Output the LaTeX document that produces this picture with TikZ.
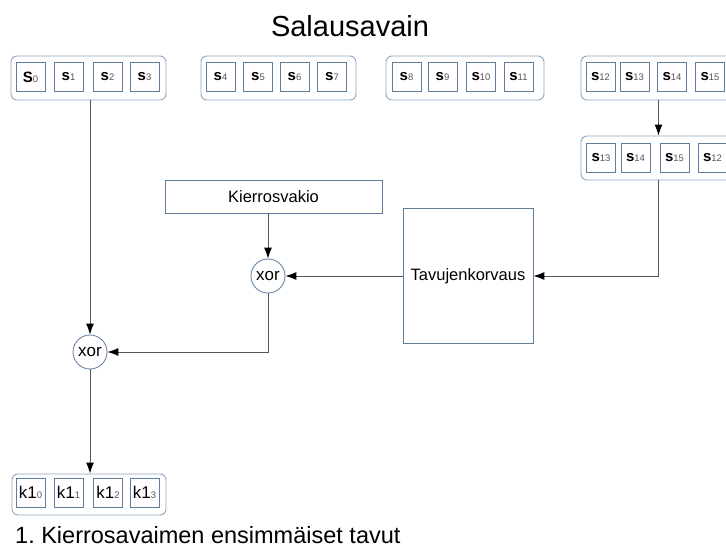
\documentclass[tikz,border=0pt]{standalone}
\usepackage{fontspec}
\setmainfont{Liberation Sans}
\usetikzlibrary{arrows.meta}
\definecolor{grpc}{HTML}{8FA7C0}
\definecolor{cellc}{HTML}{5F7D9C}
\definecolor{connc}{HTML}{555555}
\definecolor{subc}{HTML}{555555}
\newcommand\sbyte[2]{{\fontsize{15}{15}\selectfont\bfseries #1}{\fontsize{9.5}{9.5}\selectfont\color{subc}#2}}
\newcommand\kbyte[1]{{\fontsize{17}{17}\selectfont k1}{\fontsize{9.5}{9.5}\selectfont\color{subc}#1}}
\tikzset{
  grp/.style={draw=grpc, line width=0.9pt, rounded corners=6pt, minimum width=155pt, minimum height=44pt, inner sep=0pt},
  cell/.style={draw=cellc, line width=0.8pt, minimum width=29pt, minimum height=29pt, inner sep=0pt},
  opbox/.style={draw=cellc, line width=0.8pt, inner sep=0pt, font=\fontsize{16.5}{16.5}\selectfont},
  xorc/.style={draw=cellc, line width=0.8pt, circle, minimum size=34pt, inner sep=0pt, font=\fontsize{17}{17}\selectfont},
  conn/.style={draw=connc, line width=1pt, -{Latex[length=11pt,width=8pt,color=black]}},
}
\begin{document}
\begin{tikzpicture}[x=1pt,y=-1pt]
\useasboundingbox (0,0) rectangle (726,551);
\fill[white] (0,0) rectangle (726,551);

% heading
\node[anchor=base, font=\fontsize{29}{29}\selectfont] (title) at (350,37) {Salausavain};

% key words w0..w3
\node[grp] (g1) at (88.5,78) {};
\node[cell] (s0) at (30.5,77) {\sbyte{S}{0}};
\node[cell] (s1) at (68.5,77) {\sbyte{s}{1}};
\node[cell] (s2) at (107.5,77) {\sbyte{s}{2}};
\node[cell] (s3) at (144.5,77) {\sbyte{s}{3}};

\node[grp] (g2) at (278.5,78) {};
\node[cell] (s4) at (220.5,77) {\sbyte{s}{4}};
\node[cell] (s5) at (258,77) {\sbyte{s}{5}};
\node[cell] (s6) at (294.5,77) {\sbyte{s}{6}};
\node[cell] (s7) at (332,77) {\sbyte{s}{7}};

\node[grp, minimum width=158pt] (g3) at (465,78) {};
\node[cell] (s8) at (406.5,77) {\sbyte{s}{8}};
\node[cell] (s9) at (442.5,77) {\sbyte{s}{9}};
\node[cell] (s10) at (481,77) {\sbyte{s}{10}};
\node[cell] (s11) at (518.5,77) {\sbyte{s}{11}};

\node[grp] (g4) at (658.5,78) {};
\node[cell] (s12) at (600.5,77) {\sbyte{s}{12}};
\node[cell] (s13) at (634.5,77) {\sbyte{s}{13}};
\node[cell] (s14) at (672,77) {\sbyte{s}{14}};
\node[cell] (s15) at (710,77) {\sbyte{s}{15}};

% rotated word
\node[grp] (g5) at (658.5,158) {};
\node[cell] (r13) at (601,158) {\sbyte{s}{13}};
\node[cell] (r14) at (635.5,158) {\sbyte{s}{14}};
\node[cell] (r15) at (674.5,158) {\sbyte{s}{15}};
\node[cell] (r12) at (712.5,158) {\sbyte{s}{12}};

% operations
\node[opbox, minimum width=217pt, minimum height=33pt] (kv) at (273.5,196.5) {Kierrosvakio};
\node[opbox, minimum width=130pt, minimum height=135pt] (tav) at (468,276) {Tavujenkorvaus};
\node[xorc] (x1) at (268,276) {xor};
\node[xorc] (x2) at (90,352) {xor};

% first round-key word
\node[grp, minimum width=154pt, minimum height=41pt] (kg) at (89,494.5) {};
\node[cell] (k0) at (30.5,492.5) {\kbyte{0}};
\node[cell] (k1) at (68.5,492.5) {\kbyte{1}};
\node[cell] (k2) at (108,492.5) {\kbyte{2}};
\node[cell] (k3) at (144.5,492.5) {\kbyte{3}};

\node[anchor=base west, font=\fontsize{23.5}{23.5}\selectfont, inner sep=0pt] (cap) at (15,543) {1.\ Kierrosavaimen ensimmäiset tavut};

% connections
\draw[conn] (g4.south) -- (g5.north);
\draw[conn] (g5.south) |- (tav.east);
\draw[conn] (tav.west) -- (x1.east);
\draw[conn] (kv.south -| x1) -- (x1.north);
\draw[conn] (x1.south) |- (x2.east);
\draw[conn] (g1.south -| x2) -- (x2.north);
\draw[conn] (x2.south) -- (x2.south |- kg.north);
\end{tikzpicture}
\end{document}
